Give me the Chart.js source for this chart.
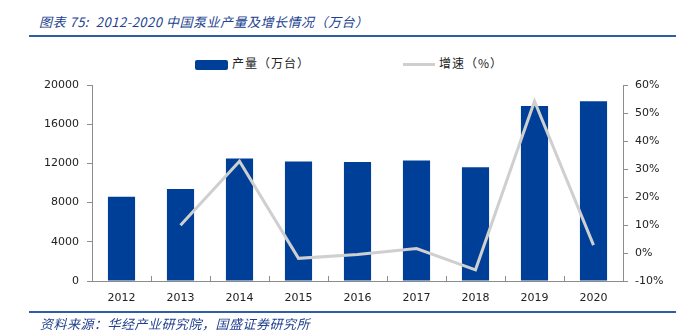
<!DOCTYPE html>
<html>
<head>
<meta charset="utf-8">
<script src="https://cdn.jsdelivr.net/npm/chart.js@4"></script>
<style>
    body { margin: 0; background: #fff; }
    #wrap { position: relative; width: 676px; height: 335px; overflow: hidden; font-family: "Noto Sans CJK SC", sans-serif; }
    #chart { position: absolute; left: 0; top: 0; }
    .title { position: absolute; left: 39px; top: 12px; font-size: 13px; font-style: italic; color: #203f8f; white-space: nowrap; letter-spacing: 0.5px; }
    .rule { position: absolute; left: 29px; right: 0; height: 2px; background: #2f5da6; }
    .source { position: absolute; left: 40px; top: 314px; font-size: 13px; font-style: italic; color: #203f8f; white-space: nowrap; letter-spacing: 0.5px; }
    .legend { position: absolute; top: 54px; font-size: 12px; color: #222; white-space: nowrap; letter-spacing: 1px; }
    .legend i { display: inline-block; vertical-align: middle; margin-right: 4px; }
</style>
</head>
<body>
<div id="wrap">
    <div class="title">图表 75:&nbsp; 2012-2020 中国泵业产量及增长情况（万台）</div>
    <div class="rule" style="top:35px"></div>

    <div class="legend" style="left:195px"><i style="width:33px;height:10px;background:#003f98;border-radius:2px"></i>产量（万台）</div>
    <div class="legend" style="left:403px"><i style="width:32px;height:3px;background:#cfcfcf"></i>增速（%）</div>

    <canvas id="chart" width="676" height="335"></canvas>

    <div class="rule" style="top:311px"></div>
    <div class="source">资料来源：华经产业研究院，国盛证券研究所</div>
</div>

<script>
    //DATA
    const years  = ['2012', '2013', '2014', '2015', '2016', '2017', '2018', '2019', '2020'];
    const output = [8600, 9400, 12500, 12200, 12150, 12300, 11600, 17850, 18350];   // 万台
    const growth = [null, 9.9, 32.8, -1.9, -0.5, 1.6, -6.0, 54.2, 2.8];             // %

    const leftTicks  = { min: 0, max: 20000, step: 4000 };
    const rightTicks = { min: -10, max: 60, step: 10 };

    const axisColor = '#8c8c8c';
    const tickFont  = { family: 'DejaVu Sans', size: 11 };

    new Chart(document.getElementById('chart'), {
        data: {
            labels: years,
            datasets: [{
                type: 'line',
                label: '增速（%）',
                data: growth,
                yAxisID: 'y1',
                borderColor: '#cfcfcf',
                borderWidth: 3,
                pointRadius: 0,
                tension: 0,
                order: 0
            }, {
                type: 'bar',
                label: '产量（万台）',
                data: output,
                yAxisID: 'y',
                backgroundColor: '#003f98',
                categoryPercentage: 1,
                barPercentage: 0.46,
                order: 1
            }]
        },
        options: {
            responsive: false,
            animation: false,
            layout: { padding: { top: 85, left: 0, right: 0, bottom: 0 } },
            plugins: {
                legend: { display: false },
                tooltip: { enabled: false }
            },
            scales: {
                x: {
                    grid: { drawOnChartArea: false, color: axisColor, tickLength: -5 },
                    border: { color: axisColor },
                    ticks: { color: '#222', font: tickFont, padding: 16 },
                    afterFit: function (s) { s.height = 54; }
                },
                y: {
                    position: 'left',
                    min: leftTicks.min,
                    max: leftTicks.max,
                    grid: { drawOnChartArea: false, color: axisColor, tickLength: 5 },
                    border: { color: axisColor },
                    ticks: {
                        stepSize: leftTicks.step, color: '#222', font: tickFont, padding: 8,
                        callback: function (v) { return String(v); }
                    },
                    afterFit: function (s) { s.width = 92; }
                },
                y1: {
                    position: 'right',
                    min: rightTicks.min,
                    max: rightTicks.max,
                    grid: { drawOnChartArea: false, color: axisColor, tickLength: 5 },
                    border: { color: axisColor },
                    ticks: {
                        stepSize: rightTicks.step, color: '#222', font: tickFont, padding: 7,
                        callback: function (v) { return v + '%'; }
                    },
                    afterFit: function (s) { s.width = 53; }
                }
            }
        }
    });
</script>
</body>
</html>
